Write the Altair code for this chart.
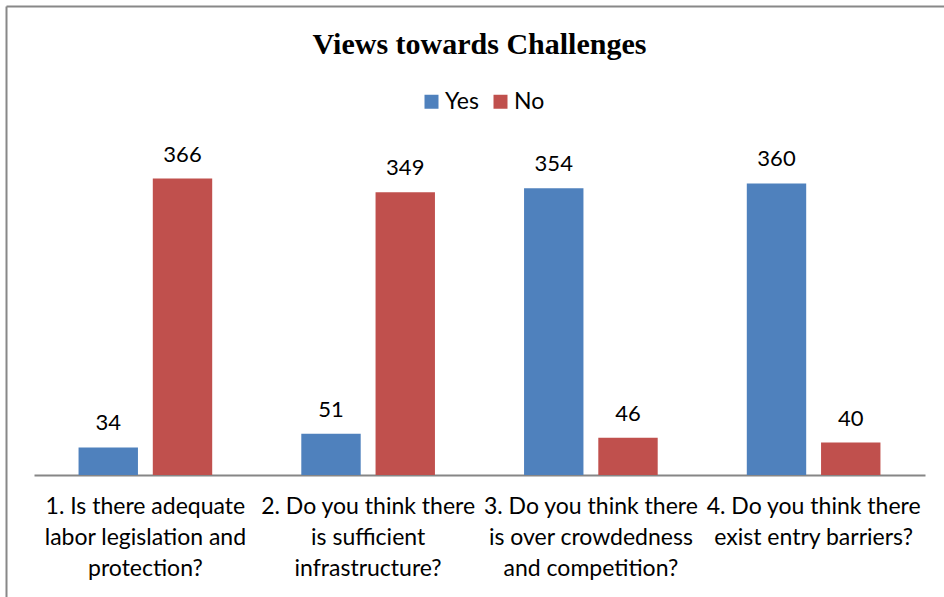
import altair as alt
import pandas as pd

categories = [
    "1. Is there adequate|labor legislation and|protection?",
    "2. Do you think there|is sufficient|infrastructure?",
    "3. Do you think there|is over crowdedness|and competition?",
    "4. Do you think there|exist entry barriers?",
]
answers = ["Yes", "No"]
yes_values = [34, 51, 354, 360]
no_values = [366, 349, 46, 40]
colors = ["#4F81BD", "#C0504D"]

rows = []
for c, y, n in zip(categories, yes_values, no_values):
    rows.append({"question": c, "answer": "Yes", "count": y})
    rows.append({"question": c, "answer": "No", "count": n})
df = pd.DataFrame(rows)

LABEL_FONT = "Lato"

x_enc = alt.X(
    "question:N",
    sort=categories,
    scale=alt.Scale(paddingInner=0, paddingOuter=0),
    axis=alt.Axis(
        title=None,
        labelExpr="split(datum.label, '|')",
        labelAngle=0,
        labelFont=LABEL_FONT,
        labelFontSize=23,
        labelColor="#000000",
        labelLineHeight=31,
        labelPadding=20,
        labelBaseline="top",
        ticks=False,
        domainColor="#868686",
        domainWidth=2,
        labelLimit=0,
    ),
)
xoff_enc = alt.XOffset(
    "answer:N", sort=answers, scale=alt.Scale(paddingInner=0.2, paddingOuter=0.6)
)
y_enc = alt.Y("count:Q", scale=alt.Scale(domain=[0, 400]), axis=None)

base = alt.Chart(df)

bars = base.mark_bar().encode(
    x=x_enc,
    xOffset=xoff_enc,
    y=y_enc,
    color=alt.Color(
        "answer:N",
        sort=answers,
        scale=alt.Scale(domain=answers, range=colors),
        legend=alt.Legend(
            title=None,
            orient="none",
            direction="horizontal",
            legendX=386,
            legendY=-61,
            symbolType="square",
            symbolSize=196,
            symbolStrokeWidth=0,
            labelFont=LABEL_FONT,
            labelFontSize=23,
            labelColor="#000000",
            columnPadding=10,
            labelOffset=2,
        ),
    ),
)

labels = base.mark_text(
    baseline="alphabetic", dy=-17, font=LABEL_FONT, fontSize=22, color="#000000"
).encode(
    x=x_enc,
    xOffset=xoff_enc,
    y=y_enc,
    text=alt.Text("count:Q"),
)

frame_df = pd.DataFrame({"k": [0]})
frame_top = alt.Chart(frame_df).mark_rule(color="#888888", strokeWidth=2).encode(
    x=alt.value(-27.5), x2=alt.value(930), y=alt.value(-144.5)
)
frame_left = alt.Chart(frame_df).mark_rule(color="#888888", strokeWidth=2).encode(
    x=alt.value(-27.5), y=alt.value(-144.5), y2=alt.value(470)
)

chart = (
    alt.layer(frame_top, frame_left, bars, labels)
    .properties(
        width=891,
        height=324,
        padding={"left": 34, "top": 151, "right": 19, "bottom": 122},
        autosize=alt.AutoSizeParams(type="none"),
        background="#ffffff",
        title=alt.TitleParams(
            "Views towards Challenges",
            font="Liberation Serif",
            fontSize=30,
            fontWeight="bold",
            color="#000000",
            anchor="middle",
            baseline="alphabetic",
            offset=-78,
        ),
    )
    .configure_view(stroke=None)
)

chart.save("out.html", embed_options={"renderer": "svg", "actions": False})
